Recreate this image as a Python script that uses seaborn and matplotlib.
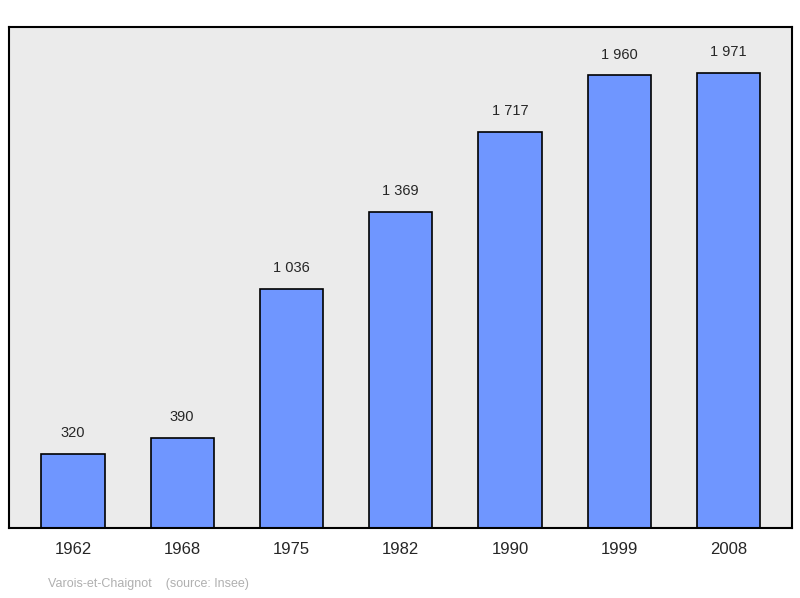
import matplotlib
matplotlib.use("Agg")
import matplotlib.pyplot as plt
import seaborn as sns
import pandas as pd

years = ["1962", "1968", "1975", "1982", "1990", "1999", "2008"]
population = [320, 390, 1036, 1369, 1717, 1960, 1971]
value_labels = ["320", "390", "1 036", "1 369", "1 717", "1 960", "1 971"]

df = pd.DataFrame({"year": years, "pop": population})

sns.set_style("white")
plt.rcParams["font.family"] = ["Liberation Sans", "DejaVu Sans"]

fig = plt.figure(figsize=(8, 5.98), dpi=100)
ax = fig.add_axes([9/800, 1 - 528/598, 783/800, 501/598])
ax.set_facecolor("#ebebeb")

sns.barplot(data=df, x="year", y="pop", ax=ax, color="#6f96ff",
            saturation=1, width=0.58, edgecolor="black", linewidth=1.2)

for i, (v, lab) in enumerate(zip(population, value_labels)):
    ax.text(i, v + 60, lab, ha="center", va="bottom", fontsize=10.5)

ax.set_xlim(-0.585, 6.58)
ax.set_ylim(0, 2170)
ax.set_yticks([])
ax.set_xlabel("")
ax.set_ylabel("")
ax.tick_params(axis="x", length=0, labelsize=12, pad=10)
for s in ax.spines.values():
    s.set_visible(True)
    s.set_color("black")
    s.set_linewidth(1.5)

fig.text(48/800, 1 - 584/598, "Varois-et-Chaignot    (source: Insee)",
         color="#b0b0b0", fontsize=9, va="center")

fig.savefig("out.png", dpi=100)
